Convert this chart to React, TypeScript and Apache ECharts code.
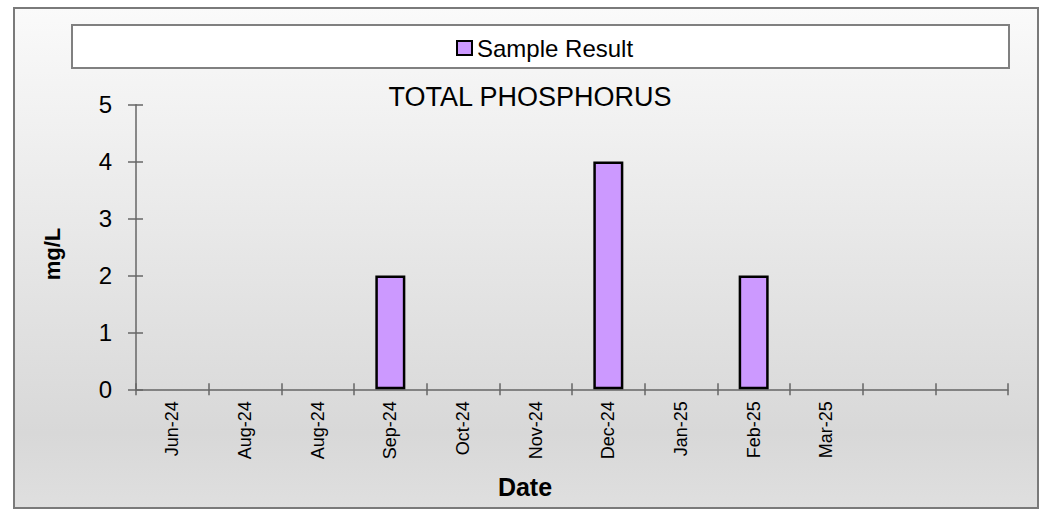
import React, { useEffect, useRef } from "react";
import * as echarts from "echarts";

const categories = ["Jun-24", "Aug-24", "Aug-24", "Sep-24", "Oct-24", "Nov-24", "Dec-24", "Jan-25", "Feb-25", "Mar-25", "", ""];
const sampleResult: (number | null)[] = [null, null, null, 2, null, null, 4, null, 2, null, null, null];
const yTicks = { min: 0, max: 5, interval: 1 };
const chartTitle = "TOTAL PHOSPHORUS";
const seriesName = "Sample Result";
const xName = "Date";
const yName = "mg/L";

const FONT = "'Liberation Sans', Arial, sans-serif";
const AXIS = "#666666";

export default function App() {
  const ref = useRef<HTMLDivElement>(null);
  useEffect(() => {
    if (!ref.current) return;
    const chart = echarts.init(ref.current, undefined, { renderer: "svg" });
    const grid = { left: 136, right: 35, top: 104.7, bottom: 122.7 };
    chart.setOption({
      animation: false,
      textStyle: { fontFamily: FONT },
      graphic: [
        {
          type: "rect",
          z: -10,
          shape: { x: 15, y: 9, width: 1024, height: 500 },
          style: { fill: "#000", opacity: 0.6 },
        },
        {
          type: "rect",
          z: -9,
          shape: { x: 14, y: 8, width: 1024, height: 500 },
          style: {
            fill: new echarts.graphic.LinearGradient(0, 0, 0, 1, [
              { offset: 0, color: "#fafafa" },
              { offset: 0.85, color: "#d8d8d8" },
              { offset: 1, color: "#dfdfdf" },
            ]),
            stroke: "#7a7a7a",
            lineWidth: 2,
          },
        },
        {
          type: "rect",
          z: -8,
          shape: { x: 72, y: 25, width: 937, height: 43 },
          style: { fill: "#ffffff", stroke: "#808080", lineWidth: 2 },
        },
        {
          type: "text",
          x: 530,
          y: 97,
          style: { text: chartTitle, font: `27px ${FONT}`, fill: "#000", textAlign: "center", textVerticalAlign: "middle" },
        },
        {
          type: "text",
          x: 525,
          y: 487,
          style: { text: xName, font: `bold 25px ${FONT}`, fill: "#000", textAlign: "center", textVerticalAlign: "middle" },
        },
        {
          type: "text",
          x: 52,
          y: 254,
          rotation: Math.PI / 2,
          style: { text: yName, font: `bold 22px ${FONT}`, fill: "#000", textAlign: "center", textVerticalAlign: "middle" },
        },
      ],
      legend: {
        left: 456,
        top: 36,
        padding: 0,
        itemWidth: 15,
        itemHeight: 14,
        itemGap: 5,
        icon: "rect",
        textStyle: { fontSize: 24, color: "#000", fontFamily: FONT },
        data: [seriesName],
      },
      grid,
      xAxis: [
        {
          type: "category",
          data: categories,
          boundaryGap: true,
          axisLine: { lineStyle: { color: AXIS, width: 1.5 } },
          axisTick: { show: true, length: 6, lineStyle: { color: AXIS, width: 1.5 }, interval: 0 },
          axisLabel: { rotate: 90, margin: 12, fontSize: 18, color: "#000", interval: 0, fontFamily: FONT },
          splitLine: { show: false },
        },
        {
          type: "category",
          data: categories,
          position: "bottom",
          boundaryGap: true,
          axisLine: { show: false },
          axisTick: { show: true, inside: true, length: 6, lineStyle: { color: AXIS, width: 1.5 }, interval: 0 },
          axisLabel: { show: false },
          splitLine: { show: false },
        },
      ],
      yAxis: [
        {
          type: "value",
          ...yTicks,
          axisLine: { show: true, lineStyle: { color: AXIS, width: 1.5 } },
          axisTick: { show: true, length: 8, lineStyle: { color: AXIS, width: 1.5 } },
          axisLabel: { margin: 24, fontSize: 24, color: "#000", fontFamily: FONT },
          splitLine: { show: false },
        },
        {
          type: "value",
          ...yTicks,
          position: "left",
          axisLine: { show: false },
          axisTick: { show: true, inside: true, length: 7, lineStyle: { color: AXIS, width: 1.5 } },
          axisLabel: { show: false },
          splitLine: { show: false },
        },
      ],
      series: [
        {
          name: seriesName,
          type: "bar",
          data: sampleResult,
          barWidth: 30,
          itemStyle: { color: "#CC99FF", borderColor: "#000", borderWidth: 2.5 },
        },
      ],
    });
    return () => chart.dispose();
  }, []);
  return <div ref={ref} style={{ position: "absolute", left: 0, top: 0, width: 1043, height: 512 }} />;
}
